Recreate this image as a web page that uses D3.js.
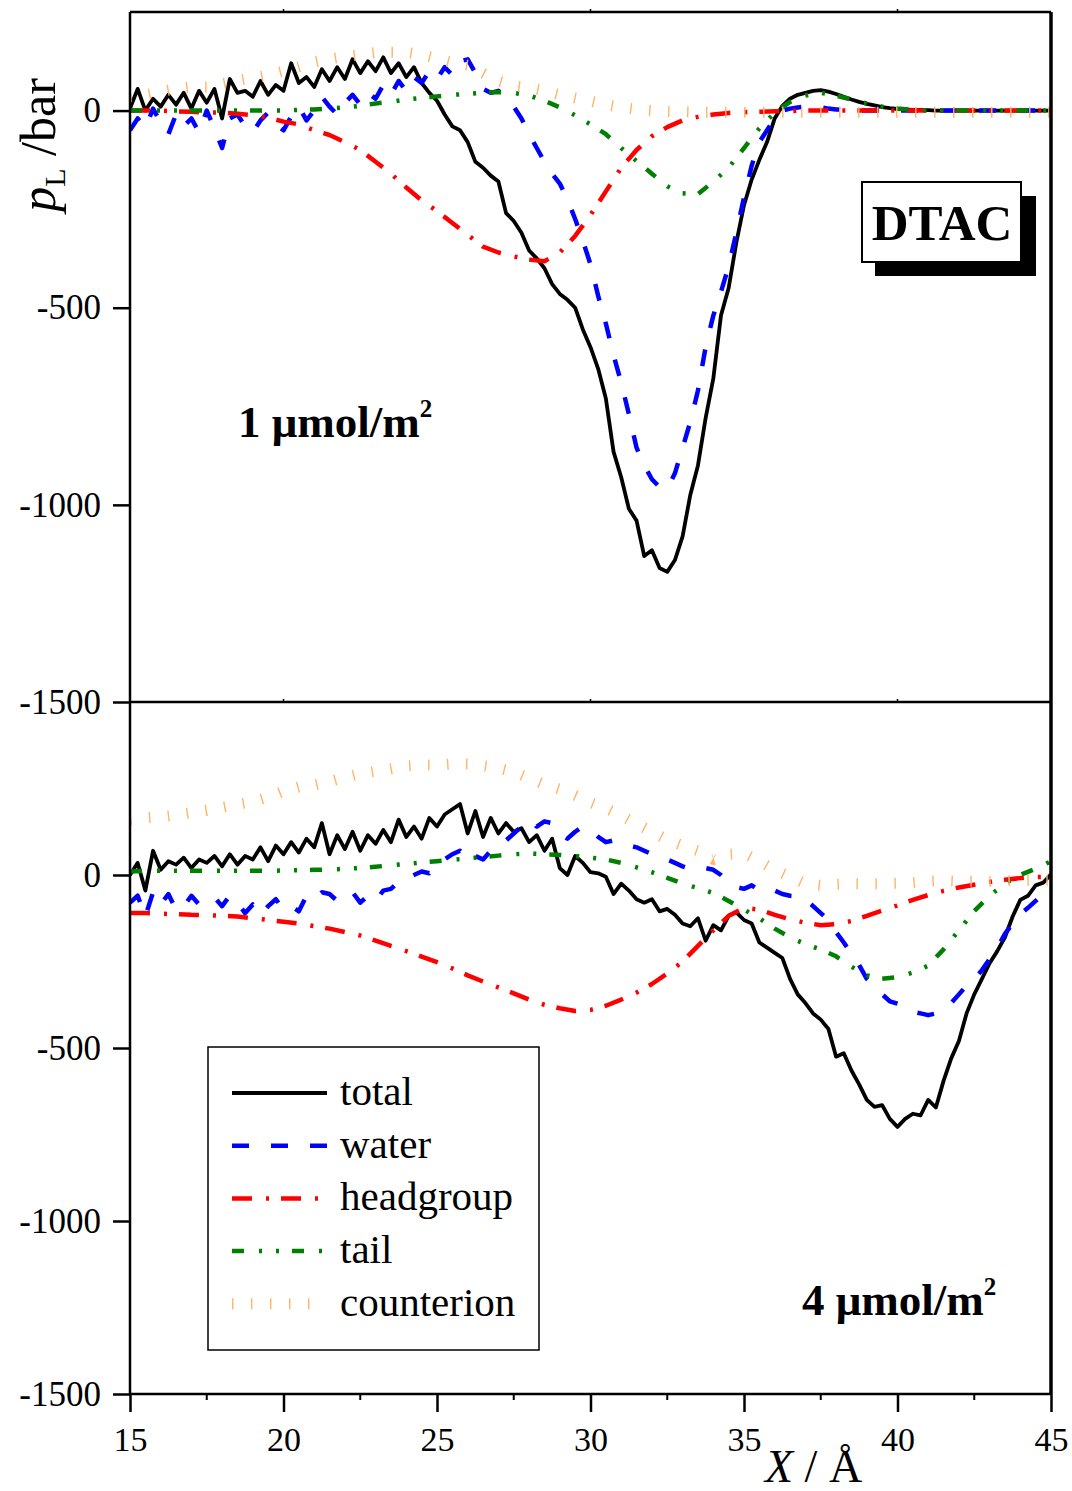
<!DOCTYPE html>
<html>
<head>
<meta charset="utf-8">
<script src="https://cdn.jsdelivr.net/npm/d3@7"></script>
<style>
  body { margin: 0; background: #fff; }
  text { font-family: "Liberation Serif", "Times New Roman", serif; fill: #000; }
</style>
</head>
<body>
<script>
// sampling grids (Angstrom)
const xFine = d3.range(15, 45.001, 0.25);
const xCoarse = d3.range(15, 45.001, 0.5);

// ---- 1 umol/m2 panel (bar) ----
const topTotal = [
  5, 55, 0, 30,   10, 40, 15, 45,   5, 50, 20, 55,   -20, 80, 45, 50,
  35, 75, 40, 65,   50, 120, 70, 85,   60, 105, 75, 110,   80, 130, 95, 125,
  100, 135, 95, 120,   85, 110, 70, 45,   25, -10, -40, -50,   -80, -130, -145, -165,
  -180, -260, -280, -310,   -355, -375, -400, -440,   -465, -480, -500, -555,
  -600, -655, -730, -865,   -930, -1010, -1040, -1130,   -1115, -1160, -1170, -1140,
  -1080, -975, -900, -780,   -680, -520, -450, -335,   -240, -175, -125, -80,
  -20, 12, 30, 40,   45, 50, 52, 48,   42, 35, 28, 22,   17, 13, 9, 6,
  4, 3, 2, 2,   1, 0, 0, 0,   0, 0, 0, 0,   0, 0, 0, 0,   0, 0, 0, 0,   0
];
const topWater = [
  -50, -20, -45, 5,   -30, -60, -10, -40,   -20, -55, 0, -45,   -95, -20, -10, -40,
  -55, -25, -5, -35,   -50, -15, 10, -25,   0, 35, 10, -10,   20, 40, 15, 45,
  30, 65, 40, 75,   50, 85, 70, 100,   80, 110, 90, 125,   130, 95, 55, 45,
  50, 35, 10, -20,   -60, -95, -130, -160,   -185, -225, -275, -330,
  -390, -470, -540, -620,   -690, -770, -855, -900,   -935, -955, -960, -920,
  -855, -790, -710, -600,   -520, -460, -395, -310,   -220, -140, -80, -50,
  -20, 0, 5, 8,   10, 10, 8, 5,   3, 2, 1, 0,
  0, 0, 0, 0,   0, 0, 0, 0,   0, 0, 0, 0,   0, 0, 0, 0,   0, 0, 0, 0,   0, 0, 0, 0,   0
];
const topHead = [
  0, 0, 0, -2, -3, -5, -5, -8, -12, -18,
  -28, -35, -50, -62, -80, -100, -130, -160, -195, -228,
  -255, -285, -315, -345, -360, -370, -378, -382, -360, -318,
  -265, -205, -145, -100, -65, -42, -25, -16, -10, -6,
  -4, -3, -2, -1, 0, 0, 0, 0, 0, 0,
  0, 0, 0, 0, 0, 0, 0, 0, 0, 0, 0
];
const topTail = [
  0, 0, 0, 0, 0, 0, 0, 0, 0, 0,
  0, 2, 3, 5, 8, 12, 18, 22, 28, 32,
  36, 40, 42, 45, 47, 45, 38, 25, 8, -12,
  -35, -60, -95, -128, -160, -192, -210, -212, -180, -145,
  -95, -45, -5, 22, 38, 45, 38, 28, 18, 10,
  5, 2, 0, 0, 0, 0, 0, 0, 0, 0, 0
];
const topCounter = [
  35, 40, 48, 55, 60, 60, 68, 76, 83, 90,
  100, 111, 123, 131, 137, 142, 147, 148, 148, 142,
  132, 122, 115, 95, 75, 63, 58, 50, 40, 32,
  24, 15, 8, 3, 0, -2, -3, -4, -4, -4,
  -4, -4, -4, -4, -4, -4, -4, -4, -4, -4,
  -4, -4, -4, -4, -4, -4, -4, -4, -4, -4, -4
];

// ---- 4 umol/m2 panel (bar) ----
const botTotal = [
  0, 35, -45, 70,   15, 40, 30, 50,   20, 45, 35, 55,   25, 60, 30, 55,
  45, 80, 40, 85,   60, 95, 65, 105,   80, 150, 60, 115,   75, 125, 70, 115,
  90, 130, 95, 160,   110, 140, 105, 165,   140, 175, 190, 205,   120, 185, 110, 165,
  120, 150, 125, 135,   95, 115, 70, 105,   20, 0, 55, 35,   8, 5, -5, -55,
  -25, -45, -70, -80,   -70, -105, -98, -115,   -140, -148, -125, -190,   -145, -160, -118, -108,
  -130, -140, -195, -210,   -225, -240, -300, -345,   -370, -400, -418, -445,   -525, -515, -565, -605,
  -650, -670, -665, -705,   -728, -705, -690, -695,   -650, -672, -595, -530,   -480, -400, -345, -300,
  -255, -220, -180, -120,   -72, -60, -30, -22,   2
];
const botWater = [
  -80, -60, -120, -50,   -85, -55, -100, -90,   -60, -85, -70, -65,   -90, -60, -80, -110,
  -85, -115, -90, -70,   -100, -90, -105, -60,   -70, -50, -55, -75,   -65, -50, -80, -60,
  -75, -45, -40, -20,   -10, 0, 10, 5,   30, 45, 60, 70,   40, 55, 45, 70,
  80, 100, 120, 140,   160, 140, 155, 150,   120, 105, 125, 140,   130, 110, 95, 100,
  90, 85, 80, 70,   60, 50, 45, 35,   25, 18, 15, 20,   15, 0, -20, -35,
  -40, -30, -45, -50,   -45, -55, -60, -62,   -70, -90, -110, -130,   -165, -195, -228, -260,
  -300, -320, -345, -365,   -372, -385, -395, -400,   -405, -400, -390, -370,   -345, -320, -300, -275,
  -243, -210, -170, -140,   -113, -95, -75, -55,   -35
];
const botHead = [
  -110, -110, -112, -113, -115, -116, -118, -120, -125, -130,
  -135, -140, -148, -155, -165, -175, -190, -205, -220, -236,
  -252, -270, -290, -308, -325, -342, -360, -375, -385, -393,
  -390, -378, -360, -340, -315, -285, -250, -205, -160, -118,
  -95, -100, -115, -128, -138, -145, -142, -133, -118, -103,
  -88, -72, -58, -46, -36, -28, -20, -14, -9, -6, -5
];
const botTail = [
  10, 12, 12, 12, 12, 12, 12, 12, 12, 12,
  13, 14, 15, 16, 18, 20, 24, 28, 32, 36,
  40, 44, 48, 52, 56, 60, 62, 60, 58, 55,
  50, 45, 35, 22, 8, -8, -25, -38, -52, -75,
  -100, -125, -155, -180, -200, -215, -235, -265, -290, -300,
  -295, -282, -262, -215, -160, -104, -60, -25, 0, 18, 40
];
const botCounter = [
  160, 165, 168, 173, 180, 187, 196, 204, 212, 225,
  242, 254, 260, 270, 282, 293, 300, 307, 315, 318,
  318, 321, 321, 316, 309, 298, 280, 262, 248, 230,
  210, 193, 172, 148, 125, 102, 85, 70, 45, 60,
  62, 40, 15, -5, -25, -30, -27, -25, -25, -25,
  -24, -22, -18, -16, -18, -18, -18, -17, -16, -15, -15
];

const seriesNames = ["total", "water", "headgroup", "tail", "counterion"];
const yTicks = [0, -500, -1000, -1500];
const xTicks = [15, 20, 25, 30, 35, 40, 45];
const xMinor = [17.5, 22.5, 27.5, 32.5, 37.5, 42.5];

const styles = {
  total:      { color: "#000000", width: 3.8, dash: null },
  water:      { color: "#0000ff", width: 4.5, dash: "17 22" },
  headgroup:  { color: "#ff0000", width: 4.5, dash: "20 14 3 12" },
  tail:       { color: "#008000", width: 4.5, dash: "12 15 3 14 3 13" },
  counterion: { color: "#ffb468", width: 11,  dash: "1.4 17.6" }
};

const width = 1072, height = 1491;
const left = 130, right = 1051;

const svg = d3.select("body").append("svg")
  .attr("width", width)
  .attr("height", height);

const x = d3.scaleLinear().domain([15, 45]).range([left, right]);
const yTop = d3.scaleLinear().domain([-1500, 250]).range([702, 12]);
const yBot = d3.scaleLinear().domain([-1500, 500]).range([1394, 702]);

function zipSeries(xs, ys) {
  return xs.map((d, i) => [d, ys[i]]);
}

function drawPanel(id, y, series) {
  const [y0, y1] = y.range();
  svg.append("clipPath").attr("id", id)
    .append("rect")
    .attr("x", left).attr("y", y1)
    .attr("width", right - left).attr("height", y0 - y1);

  const line = d3.line()
    .x(d => x(d[0]))
    .y(d => y(d[1]));

  const g = svg.append("g").attr("clip-path", "url(#" + id + ")");
  series.forEach(s => {
    const st = styles[s.name];
    g.append("path")
      .datum(zipSeries(s.xs, s.ys))
      .attr("fill", "none")
      .attr("stroke", st.color)
      .attr("stroke-width", st.width)
      .attr("stroke-dasharray", st.dash)
      .attr("stroke-linejoin", "round")
      .attr("d", line);
  });

  // left axis
  const ax = svg.append("g")
    .attr("transform", "translate(" + left + ",0)")
    .call(d3.axisLeft(y).tickValues(yTicks).tickSize(17).tickPadding(12)
      .tickFormat(d => String(d)));
  ax.select(".domain").remove();
  ax.selectAll(".tick line").attr("stroke", "#000").attr("stroke-width", 2.5);
  ax.selectAll(".tick text")
    .attr("font-family", "Liberation Serif")
    .attr("font-size", 35);

  // small ticks on the top edge
  svg.append("g").selectAll("line")
    .data([20, 30, 40])
    .join("line")
    .attr("x1", d => x(d)).attr("x2", d => x(d))
    .attr("y1", y1).attr("y2", y1 - 3)
    .attr("stroke", "#000").attr("stroke-width", 1.5);
}

drawPanel("clipTop", yTop, [
  { name: "total", xs: xFine, ys: topTotal },
  { name: "water", xs: xFine, ys: topWater },
  { name: "headgroup", xs: xCoarse, ys: topHead },
  { name: "tail", xs: xCoarse, ys: topTail },
  { name: "counterion", xs: xCoarse, ys: topCounter }
]);

drawPanel("clipBot", yBot, [
  { name: "total", xs: xFine, ys: botTotal },
  { name: "water", xs: xFine, ys: botWater },
  { name: "headgroup", xs: xCoarse, ys: botHead },
  { name: "tail", xs: xCoarse, ys: botTail },
  { name: "counterion", xs: xCoarse, ys: botCounter }
]);

// frame
const frame = svg.append("g").attr("stroke", "#000").attr("fill", "none");
frame.append("line").attr("x1", left).attr("x2", left).attr("y1", 12).attr("y2", 1394).attr("stroke-width", 2.5);
frame.append("line").attr("x1", right).attr("x2", right).attr("y1", 12).attr("y2", 1394).attr("stroke-width", 3.5);
frame.append("line").attr("x1", left).attr("x2", right).attr("y1", 12).attr("y2", 12).attr("stroke-width", 2.5);
frame.append("line").attr("x1", left).attr("x2", right).attr("y1", 702).attr("y2", 702).attr("stroke-width", 2.5);
frame.append("line").attr("x1", left).attr("x2", right).attr("y1", 1394).attr("y2", 1394).attr("stroke-width", 2.5);

// x axis
const xa = svg.append("g")
  .attr("transform", "translate(0,1394)")
  .call(d3.axisBottom(x).tickValues(xTicks).tickSize(18).tickPadding(15)
    .tickFormat(d => String(d)));
xa.select(".domain").remove();
xa.selectAll(".tick line").attr("stroke", "#000").attr("stroke-width", 2.5);
xa.selectAll(".tick text").attr("font-family", "Liberation Serif").attr("font-size", 34);

svg.append("g").selectAll("line")
  .data(xMinor)
  .join("line")
  .attr("x1", d => x(d)).attr("x2", d => x(d))
  .attr("y1", 1394).attr("y2", 1400)
  .attr("stroke", "#000").attr("stroke-width", 2);

// axis titles
const yl = svg.append("text")
  .attr("transform", "translate(55,145) rotate(-90)")
  .attr("text-anchor", "middle")
  .attr("font-size", 50);
yl.append("tspan").attr("font-style", "italic").text("p");
yl.append("tspan").attr("font-size", 30).attr("dy", 10).text("L");
yl.append("tspan").attr("dy", -10).text(" /bar");

const xl = svg.append("text")
  .attr("x", 765).attr("y", 1482)
  .attr("font-size", 46);
xl.append("tspan").attr("font-style", "italic").text("X");
xl.append("tspan").text(" / Å");

// concentration labels
function concLabel(tx, ty, num) {
  const t = svg.append("text")
    .attr("x", tx).attr("y", ty)
    .attr("font-size", 45)
    .attr("font-weight", "bold");
  t.append("tspan").text(num + " μmol/m");
  t.append("tspan").attr("font-size", 25).attr("dy", -20).text("2");
}
concLabel(238, 437, "1");
concLabel(802, 1315, "4");

// DTAC box
svg.append("rect").attr("x", 875).attr("y", 196).attr("width", 161).attr("height", 80).attr("fill", "#000");
svg.append("rect").attr("x", 862).attr("y", 182).attr("width", 159).attr("height", 80)
  .attr("fill", "#fff").attr("stroke", "#000").attr("stroke-width", 2);
svg.append("text").attr("x", 942).attr("y", 240)
  .attr("text-anchor", "middle")
  .attr("font-size", 51).attr("font-weight", "bold")
  .text("DTAC");

// legend
const lg = svg.append("g");
lg.append("rect").attr("x", 208).attr("y", 1047).attr("width", 331).attr("height", 303)
  .attr("fill", "#fff").attr("stroke", "#000").attr("stroke-width", 1.5);
seriesNames.forEach((name, i) => {
  const ly = 1093 + i * 52.7;
  const st = styles[name];
  lg.append("line")
    .attr("x1", 232).attr("x2", 327)
    .attr("y1", ly).attr("y2", ly)
    .attr("stroke", st.color)
    .attr("stroke-width", st.width)
    .attr("stroke-dasharray", st.dash);
  lg.append("text")
    .attr("x", 340).attr("y", ly + 12)
    .attr("font-size", 41)
    .text(name);
});
</script>
</body>
</html>
